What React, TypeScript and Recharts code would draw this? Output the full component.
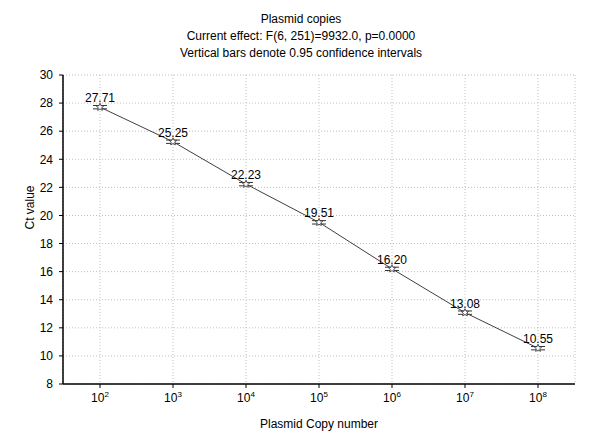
import { LineChart, Line, XAxis, YAxis, CartesianGrid, ErrorBar, LabelList } from 'recharts';

const exponents = [2, 3, 4, 5, 6, 7, 8];
const ctValues = [27.71, 25.25, 22.23, 19.51, 16.2, 13.08, 10.55];
const ctErrors = [0.12, 0.12, 0.12, 0.12, 0.12, 0.12, 0.12];
const yTicks = [8, 10, 12, 14, 16, 18, 20, 22, 24, 26, 28, 30];

const titleLines = [
  'Plasmid copies',
  'Current effect: F(6, 251)=9932.0, p=0.0000',
  'Vertical bars denote 0.95 confidence intervals',
];

const data = exponents.map((e, i) => ({ copies: e, ct: ctValues[i], err: ctErrors[i] }));

const FONT = '"Liberation Sans", Arial, sans-serif';
const INK = '#000';
const PAD = { left: 37, right: 37 };

function PowerTick({ x, y, payload }: any) {
  return (
    <text x={x} y={y + 12} textAnchor="middle" fontFamily={FONT} fontSize={12} fill={INK}>
      <tspan>10</tspan>
      <tspan dy={-5} fontSize={8}>{payload.value}</tspan>
    </text>
  );
}

function StarDot({ cx, cy }: any) {
  if (cx == null || cy == null) return null;
  const pts: string[] = [];
  for (let k = 0; k < 10; k++) {
    const r = k % 2 === 0 ? 4 : 1.8;
    const a = -Math.PI / 2 + (k * Math.PI) / 5;
    pts.push(`${cx + r * Math.cos(a)},${cy + r * Math.sin(a)}`);
  }
  return <polygon points={pts.join(' ')} fill="#fff" stroke="#333" strokeWidth={0.8} />;
}

const emptyTick = () => <g />;

export default function App() {
  return (
    <div style={{ position: 'absolute', left: 0, top: 0, width: 600, height: 448, background: '#fff' }}>
      <LineChart
        width={600}
        height={448}
        data={data}
        margin={{ top: 75, right: 25, bottom: 0, left: 0 }}
      >
        <CartesianGrid xAxisId="bottom" yAxisId="left" stroke="#c0c0c0" strokeDasharray="1 2" />
        <XAxis
          xAxisId="bottom"
          dataKey="copies"
          type="category"
          height={64}
          padding={PAD}
          tick={<PowerTick />}
          tickSize={4}
          axisLine={{ stroke: INK, strokeWidth: 1.5 }}
          tickLine={{ stroke: INK }}
          label={{ value: 'Plasmid Copy number', position: 'insideBottom', offset: 20, fontFamily: FONT, fontSize: 12, fill: INK }}
        />
        <XAxis
          xAxisId="top"
          orientation="top"
          dataKey="copies"
          type="category"
          height={0}
          padding={PAD}
          tick={emptyTick}
          tickSize={4}
          axisLine={{ stroke: INK, strokeWidth: 1.5 }}
          tickLine={{ stroke: INK }}
        />
        <YAxis
          yAxisId="left"
          domain={[8, 30]}
          ticks={yTicks}
          width={63}
          tickSize={4}
          tickMargin={6}
          interval={0}
          axisLine={{ stroke: INK, strokeWidth: 1.5 }}
          tickLine={{ stroke: INK }}
          tick={{ fontFamily: FONT, fontSize: 12, fill: INK }}
          label={{ value: 'Ct value', angle: -90, position: 'insideLeft', offset: 30, fontFamily: FONT, fontSize: 12, fill: INK }}
        />
        <YAxis
          yAxisId="right"
          orientation="right"
          domain={[8, 30]}
          ticks={yTicks}
          width={0}
          tickSize={4}
          interval={0}
          axisLine={{ stroke: INK, strokeWidth: 1.5 }}
          tickLine={{ stroke: INK }}
          tick={emptyTick}
        />
        <Line
          xAxisId="top"
          yAxisId="right"
          dataKey="ct"
          stroke="none"
          dot={false}
          activeDot={false}
          isAnimationActive={false}
        />
        <Line
          xAxisId="bottom"
          yAxisId="left"
          type="linear"
          dataKey="ct"
          stroke="#404040"
          strokeWidth={1}
          dot={<StarDot />}
          activeDot={false}
          isAnimationActive={false}
        >
          <ErrorBar dataKey="err" width={7} stroke="#333" strokeWidth={1} direction="y" />
          <LabelList
            dataKey="ct"
            position="top"
            offset={5}
            formatter={(v: any) => Number(v).toFixed(2)}
            style={{ fontFamily: FONT, fontSize: 12, fill: INK }}
          />
        </Line>
      </LineChart>
      <svg width={600} height={70} style={{ position: 'absolute', left: 0, top: 0 }}>
        {titleLines.map((t, i) => (
          <text key={i} x={301} y={23 + i * 17} textAnchor="middle" fontFamily={FONT} fontSize={12} fill={INK}>
            {t}
          </text>
        ))}
      </svg>
    </div>
  );
}
